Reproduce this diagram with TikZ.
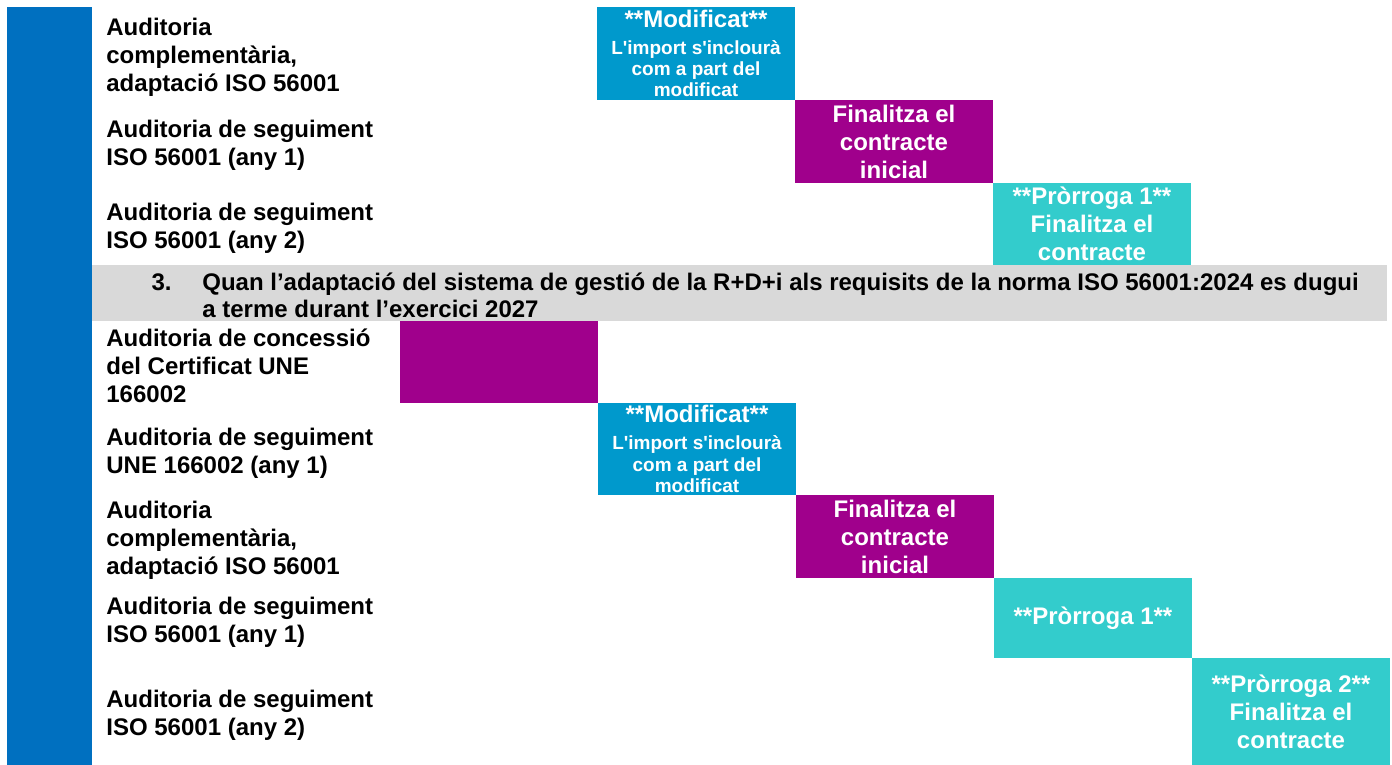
\documentclass[tikz,border=0pt]{standalone}
\usepackage{fontspec}
\setmainfont{Liberation Sans}
\usetikzlibrary{positioning}

\definecolor{barblue}{RGB}{0,112,192}
\definecolor{modblue}{RGB}{0,153,204}
\definecolor{finpurple}{RGB}{160,0,140}
\definecolor{protteal}{RGB}{51,204,204}
\definecolor{bannergray}{RGB}{217,217,217}

\tikzset{
  phase/.style={anchor=north west, minimum width=99pt, minimum height=#1,
    inner sep=0pt, outer sep=0pt},
  phasetext/.style={inner sep=0pt, align=center, text=white,
    font=\bfseries\fontsize{12}{14}\selectfont},
  rowlabel/.style={anchor=west, inner sep=0pt, align=left, yshift=-2pt,
    font=\bfseries\fontsize{12}{14}\selectfont},
  bannerfont/.style={inner sep=0pt, align=left,
    font=\bfseries\fontsize{12}{13.5}\selectfont},
}

\newcommand{\smalltxt}{\fontsize{9.5}{10.8}\selectfont}
\newcommand{\modtext}{**Modificat**\\[-0.6pt]\smalltxt L\textquotesingle import s\textquotesingle inclourà\\[-3.3pt]\smalltxt com a part del\\[-3.3pt]\smalltxt modificat}

\begin{document}
\begin{tikzpicture}
  \useasboundingbox (0,0) rectangle (696pt,-382.5pt);

  % side bar and section banner
  \fill[barblue] (3.5pt,-3.5pt) rectangle (46pt,-382.5pt);
  \fill[bannergray] (46pt,-132.5pt) rectangle (693.5pt,-160.5pt);

  % first block
  \node[phase=46.5pt, fill=modblue, label={[phasetext]center:\modtext}] (m1) at (298.5pt,-3.5pt) {};
  \node[phase=41.5pt, fill=finpurple, below right=0pt of m1,
    label={[phasetext]center:Finalitza el\\contracte\\inicial}] (p1) {};
  \node[phase=41pt, fill=protteal, below right=0pt of p1,
    label={[phasetext]center:**Pròrroga 1**\\Finalitza el\\contracte}] (t1) {};

  % banner text
  \node[bannerfont, anchor=west] (bannertext) at (101pt,-149.5pt)
    {\strut Quan l’adaptació del sistema de gestió de la R+D+i als requisits de la norma ISO 56001:2024 es dugui\\\strut a terme durant l’exercici 2027};
  \node[bannerfont, left=15pt of bannertext.north west, anchor=north east] (bannernum)
    {\strut 3.};

  % second block
  \node[phase=41pt, fill=finpurple] (p2) at (200pt,-160.5pt) {};
  \node[phase=46pt, fill=modblue, below right=0pt of p2,
    label={[phasetext]center:\modtext}] (m2) {};
  \node[phase=41.5pt, fill=finpurple, below right=0pt of m2,
    label={[phasetext]center:Finalitza el\\contracte\\inicial}] (p3) {};
  \node[phase=40pt, fill=protteal, below right=0pt of p3,
    label={[phasetext]center:**Pròrroga 1**}] (t2) {};
  \node[phase=53.5pt, fill=protteal, below right=0pt of t2,
    label={[phasetext]center:**Pròrroga 2**\\Finalitza el\\contracte}] (t3) {};

  % row labels
  \coordinate (lblx) at (53pt,0);
  \node[rowlabel] (l1) at (lblx |- m1.west) {Auditoria\\complementària,\\adaptació ISO 56001};
  \node[rowlabel] (l2) at (lblx |- p1.west) {Auditoria de seguiment\\ISO 56001 (any 1)};
  \node[rowlabel] (l3) at (lblx |- t1.west) {Auditoria de seguiment\\ISO 56001 (any 2)};
  \node[rowlabel] (l4) at (lblx |- p2.west) {Auditoria de concessió\\del Certificat UNE\\166002};
  \node[rowlabel] (l5) at (lblx |- m2.west) {Auditoria de seguiment\\UNE 166002 (any 1)};
  \node[rowlabel] (l6) at (lblx |- p3.west) {Auditoria\\complementària,\\adaptació ISO 56001};
  \node[rowlabel] (l7) at (lblx |- t2.west) {Auditoria de seguiment\\ISO 56001 (any 1)};
  \node[rowlabel] (l8) at (lblx |- t3.west) {Auditoria de seguiment\\ISO 56001 (any 2)};
\end{tikzpicture}
\end{document}
